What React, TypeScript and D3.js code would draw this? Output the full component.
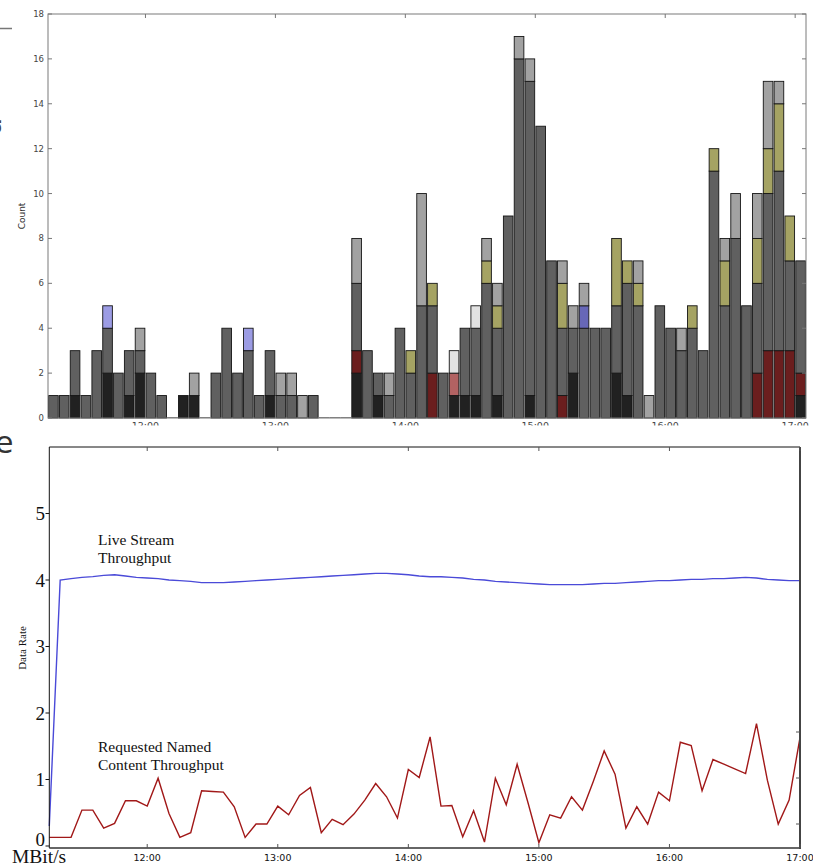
import React from 'react';
import * as d3 from 'd3';

// 5-minute bins starting at 11:15, 70 of them
const binStarts = d3.range(70).map(i => new Date(2014, 0, 1, 11, 15 + 5 * i));

// stacked counts per bin, bottom to top
const black = [0,0,1,0,0,2,0,1,2,0, 0,0,1,1,0,0,0,0,0,0, 1,0,0,0,0,0,0,0,2,0, 1,0,0,0,0,0,0,1,1,1, 0,1,0,0,1,0,0,0,2,0, 0,0,2,1,0,0,0,0,0,0, 0,0,0,0,0,0,0,0,0,1];
const darkRed = [0,0,0,0,0,0,0,0,0,0, 0,0,0,0,0,0,0,0,0,0, 0,0,0,0,0,0,0,0,1,0, 0,0,0,0,0,2,0,0,0,0, 0,0,0,0,0,0,0,1,0,0, 0,0,0,0,0,0,0,0,0,0, 0,0,0,0,0,2,3,3,3,1];
const pink = [0,0,0,0,0,0,0,0,0,0, 0,0,0,0,0,0,0,0,0,0, 0,0,0,0,0,0,0,0,0,0, 0,0,0,0,0,0,0,1,0,0, 0,0,0,0,0,0,0,0,0,0, 0,0,0,0,0,0,0,0,0,0, 0,0,0,0,0,0,0,0,0,0];
const grey = [1,1,2,1,3,2,2,2,1,2, 1,0,0,0,0,2,4,2,3,1, 2,1,1,0,1,0,0,0,3,3, 1,1,4,2,5,3,2,0,3,3, 6,3,9,16,14,13,7,3,2,4, 4,4,3,5,5,0,5,4,3,4, 3,11,5,8,5,4,7,8,4,5];
const olive = [0,0,0,0,0,0,0,0,0,0, 0,0,0,0,0,0,0,0,0,0, 0,0,0,0,0,0,0,0,0,0, 0,0,0,1,0,1,0,0,0,0, 1,1,0,0,0,0,0,2,0,0, 0,0,3,1,1,0,0,0,0,1, 0,1,2,0,0,2,2,3,2,0];
const bluePale = [0,0,0,0,0,1,0,0,0,0, 0,0,0,0,0,0,0,0,1,0, 0,0,0,0,0,0,0,0,0,0, 0,0,0,0,0,0,0,0,0,0, 0,0,0,0,0,0,0,0,0,0, 0,0,0,0,0,0,0,0,0,0, 0,0,0,0,0,0,0,0,0,0];
const blue = [0,0,0,0,0,0,0,0,0,0, 0,0,0,0,0,0,0,0,0,0, 0,0,0,0,0,0,0,0,0,0, 0,0,0,0,0,0,0,0,0,0, 0,0,0,0,0,0,0,0,0,1, 0,0,0,0,0,0,0,0,0,0, 0,0,0,0,0,0,0,0,0,0];
const lightGrey = [0,0,0,0,0,0,0,0,1,0, 0,0,0,1,0,0,0,0,0,0, 0,1,1,1,0,0,0,0,2,0, 0,1,0,0,5,0,0,0,0,0, 1,1,0,1,1,0,0,1,1,1, 0,0,0,0,1,1,0,0,1,0, 0,0,1,2,0,2,3,1,0,0];
const whitish = [0,0,0,0,0,0,0,0,0,0, 0,0,0,0,0,0,0,0,0,0, 0,0,0,0,0,0,0,0,0,0, 0,0,0,0,0,0,0,1,0,1, 0,0,0,0,0,0,0,0,0,0, 0,0,0,0,0,0,0,0,0,0, 0,0,0,0,0,0,0,0,0,0];

const seriesKeys = ['black', 'darkRed', 'pink', 'grey', 'olive', 'bluePale', 'blue', 'lightGrey', 'whitish'];
const seriesData: Record<string, number[]> = {black, darkRed, pink, grey, olive, bluePale, blue, lightGrey, whitish};
const seriesColors: Record<string, string> = {
  black: '#212121', darkRed: '#6b1e1e', pink: '#b26262', grey: '#606060', olive: '#a5a363',
  bluePale: '#9c9ce4', blue: '#6767b8', lightGrey: '#a2a2a2', whitish: '#e2e2e2',
};

// throughput lines (MBit/s), one point every 5 minutes from 11:15 to 17:00
const liveStream = [0.3,4.0,4.02,4.04,4.05,4.07,4.08,4.06,4.04,4.03, 4.02,4.0,3.99,3.98,3.96,3.96,3.96,3.97,3.98,3.99, 4.0,4.01,4.02,4.03,4.04,4.05,4.06,4.07,4.08,4.09, 4.1,4.1,4.09,4.08,4.06,4.05,4.05,4.04,4.03,4.01, 4.0,3.98,3.97,3.96,3.95,3.94,3.93,3.93,3.93,3.93, 3.94,3.95,3.95,3.96,3.97,3.98,3.99,3.99,4.0,4.01, 4.01,4.02,4.02,4.03,4.04,4.03,4.01,4.0,3.99,3.99];
const namedContent = [0.13,0.13,0.13,0.54,0.54,0.27,0.34,0.68,0.68,0.6, 1.02,0.49,0.13,0.2,0.83,0.82,0.81,0.59,0.13,0.33, 0.33,0.6,0.47,0.76,0.88,0.2,0.4,0.32,0.48,0.69, 0.94,0.74,0.42,1.15,1.03,1.64,0.6,0.61,0.14,0.53, 0.06,1.02,0.62,1.23,0.65,0.05,0.47,0.42,0.74,0.54, 0.97,1.43,1.08,0.27,0.59,0.33,0.81,0.68,1.56,1.51, 0.83,1.3,1.23,1.16,1.09,1.84,0.99,0.33,0.69,1.63];

const hourTicks = [12, 13, 14, 15, 16, 17].map(h => new Date(2014, 0, 1, h, 0));
const countTicks = [0, 2, 4, 6, 8, 10, 12, 14, 16, 18];
const rateTicks = [0, 1, 2, 3, 4, 5];

const fmt = d3.timeFormat('%H:%M');
const sans = '"DejaVu Sans", sans-serif';
const serif = '"Liberation Serif", "Times New Roman", serif';

export default function App() {
  // top: histogram
  const xTop = d3.scaleTime()
    .domain([new Date(2014, 0, 1, 11, 15), new Date(2014, 0, 1, 17, 5)])
    .range([48, 806]);
  const yTop = d3.scaleLinear().domain([0, 18]).range([418, 14]);

  const rows = binStarts.map((d, i) => {
    const r: any = {t: d};
    seriesKeys.forEach(k => { r[k] = seriesData[k][i]; });
    return r;
  });
  const stacked = d3.stack().keys(seriesKeys)(rows);

  // bottom: throughput
  const xBot = d3.scaleTime()
    .domain([new Date(2014, 0, 1, 11, 15), new Date(2014, 0, 1, 17, 0)])
    .range([49.3, 800]);
  const yBot = d3.scaleLinear().domain([-0.03, 6]).range([848, 447]);
  const line = d3.line<number>()
    .x((d, i) => xBot(binStarts[i]))
    .y(d => yBot(d));

  const binW = (i: number) => xTop(new Date(+binStarts[i] + 5 * 60000)) - xTop(binStarts[i]);

  return (
    <svg width={813} height={864} style={{position: 'absolute', left: 0, top: 0, background: '#fff'}}>
      <defs>
        <clipPath id="topLabels"><rect x={0} y={0} width={813} height={425.5} /></clipPath>
      </defs>
      {/* cropped fragments at left edge */}
      <line x1={0} x2={12} y1={28.5} y2={28.5} stroke="#777" strokeWidth={1.5} />
      <text transform="translate(1,127) rotate(-90)" textAnchor="middle" fontFamily={sans} fontSize={30} fill="#444">d</text>
      <text x={-5} y={453} fontFamily={sans} fontSize={30} fill="#333">e</text>

      {/* histogram bars */}
      {stacked.map(layer => (
        <g key={layer.key} fill={seriesColors[layer.key]}>
          {layer.map((s, i) => s[1] - s[0] > 0 ? (
            <rect key={i} x={xTop(binStarts[i]) + 0.6} width={binW(i) - 1.2}
              y={yTop(s[1])} height={yTop(s[0]) - yTop(s[1])}
              stroke="#151515" strokeWidth={0.9} />
          ) : null)}
        </g>
      ))}
      {rows.map((r, i) => d3.sum(seriesKeys, k => r[k]) === 0 ? (
        <line key={i} x1={xTop(binStarts[i])} x2={xTop(binStarts[i]) + binW(i)} y1={yTop(0) - 0.5} y2={yTop(0) - 0.5} stroke="#888" strokeWidth={1} />
      ) : null)}

      {/* histogram frame and ticks */}
      <rect x={48} y={14} width={758} height={404} fill="none" stroke="#7a7a7a" strokeWidth={1} />
      {countTicks.map(v => (
        <g key={v}>
          <line x1={48} x2={52} y1={yTop(v)} y2={yTop(v)} stroke="#777" />
          <line x1={802} x2={806} y1={yTop(v)} y2={yTop(v)} stroke="#777" />
          <text x={44} y={yTop(v)} dy="0.35em" textAnchor="end" fontFamily={sans} fontSize={8.5} fill="#444">{v}</text>
        </g>
      ))}
      {hourTicks.map(t => (
        <line key={+t} x1={xTop(t)} x2={xTop(t)} y1={14} y2={18} stroke="#777" />
      ))}
      <g clipPath="url(#topLabels)">
        {hourTicks.map(t => (
          <text key={+t} x={xTop(t)} y={428.5} textAnchor="middle" fontFamily={sans} fontSize={9.5} fill="#444">{fmt(t)}</text>
        ))}
      </g>
      <text transform="translate(25,216) rotate(-90)" textAnchor="middle" fontFamily={sans} fontSize={9} fill="#333">Count</text>

      {/* throughput chart */}
      <path d={line(liveStream) || ''} fill="none" stroke="#4a4ad8" strokeWidth={1.4} />
      <path d={line(namedContent) || ''} fill="none" stroke="#a11818" strokeWidth={1.4} />

      <line x1={49.3} x2={800} y1={447} y2={447} stroke="#111" strokeWidth={1} />
      <line x1={49.3} x2={49.3} y1={447} y2={848} stroke="#111" strokeWidth={1} />
      <line x1={49.3} x2={801} y1={848} y2={848} stroke="#333" strokeWidth={1.6} />
      <line x1={800} x2={800} y1={447} y2={849} stroke="#444" strokeWidth={2} />
      {rateTicks.map(v => (
        <g key={v}>
          <line x1={45.5} x2={49.3} y1={yBot(v)} y2={yBot(v)} stroke="#111" />
          <text x={45} y={Math.min(yBot(v), 839)} dy="0.35em" textAnchor="end" fontFamily={serif} fontSize={19} fill="#111">{v}</text>
        </g>
      ))}
      {hourTicks.map(t => (
        <g key={+t}>
          <line x1={xBot(t)} x2={xBot(t)} y1={447} y2={451} stroke="#555" />
          <line x1={xBot(t)} x2={xBot(t)} y1={848} y2={844} stroke="#555" />
          <text x={xBot(t)} y={860.5} textAnchor="middle" fontFamily={sans} fontSize={9.5} fill="#111">{fmt(t)}</text>
        </g>
      ))}
      {[1, 2, 3].map(k => (
        <line key={k} x1={796} x2={800} y1={870 - 46 * k} y2={870 - 46 * k} stroke="#555" />
      ))}
      <text x={12} y={863} fontFamily={serif} fontSize={19.5} fill="#111">MBit/s</text>
      <text transform="translate(26,648) rotate(-90)" textAnchor="middle" fontFamily={serif} fontSize={11} fill="#111">Data Rate</text>
      <text fontFamily={serif} fontSize={15.5} fill="#111">
        <tspan x={98} y={545}>Live Stream</tspan>
        <tspan x={98} y={563}>Throughput</tspan>
      </text>
      <text fontFamily={serif} fontSize={15.5} fill="#111">
        <tspan x={98} y={752}>Requested Named</tspan>
        <tspan x={98} y={770}>Content Throughput</tspan>
      </text>
    </svg>
  );
}
